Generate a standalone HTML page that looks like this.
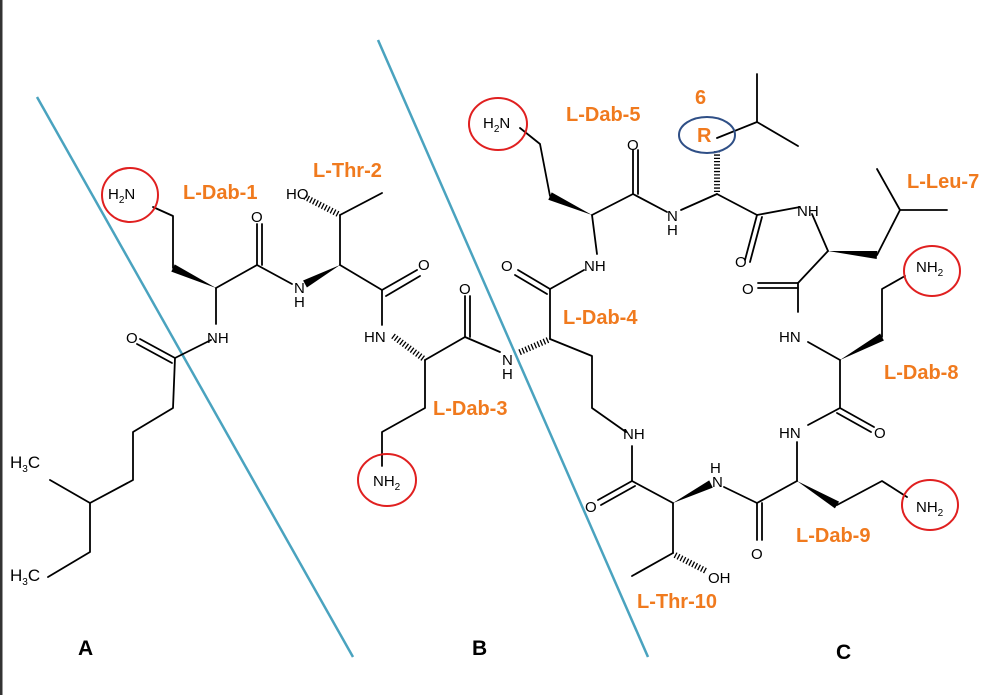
<!DOCTYPE html>
<html><head><meta charset="utf-8"><style>
html,body{margin:0;padding:0;background:#fff;}
svg{display:block;}
.b{stroke:#000;stroke-width:1.8;fill:none;stroke-linecap:round;stroke-linejoin:round}
.h{stroke:#000;stroke-width:6;stroke-dasharray:1.3 2;fill:none}
.a{font-family:"Liberation Sans",sans-serif;font-size:15px;fill:#000}
.l{font-family:"Liberation Sans",sans-serif;font-size:20px;font-weight:bold;fill:#f07a1e}
.k{font-family:"Liberation Sans",sans-serif;font-size:21px;font-weight:bold;fill:#000}
.s{font-size:10px}
</style></head><body>
<svg width="1000" height="695" viewBox="0 0 1000 695" xmlns="http://www.w3.org/2000/svg">
<rect x="0" y="0" width="1000" height="695" fill="#fff"/>
<rect x="0" y="0" width="2.5" height="695" fill="#333"/>
<!-- blue divider lines -->
<line x1="37" y1="97" x2="353" y2="657" stroke="#4aa3bf" stroke-width="2.5"/>
<line x1="378" y1="40" x2="648" y2="657" stroke="#4aa3bf" stroke-width="2.5"/>

<!-- LEFT PART -->
<g class="b">
<polyline points="153,207 173,216 173,268"/>
<polyline points="216,288 257,265 292,284"/>
<line x1="257" y1="265" x2="257" y2="224"/><line x1="262" y1="265" x2="262" y2="224"/>
<line x1="216" y1="288" x2="216" y2="324"/>
<line x1="211" y1="340" x2="175" y2="358"/>
<line x1="175" y1="358" x2="140" y2="339"/><line x1="172" y1="363" x2="137" y2="344"/>
<polyline points="175,358 173,408 133,432 133,480 90,503 50,480"/>
<polyline points="90,503 90,552 48,577"/>
<line x1="340" y1="265" x2="340" y2="215"/>
<line x1="340" y1="215" x2="382" y2="193"/>
<polyline points="340,265 382,290 382,325"/>
<line x1="382" y1="290" x2="417" y2="270"/><line x1="386" y1="296" x2="420" y2="276"/>
<polyline points="425,360 465,337 500,352"/>
<line x1="465" y1="337" x2="465" y2="296"/><line x1="470" y1="337" x2="470" y2="296"/>
<polyline points="425,360 425,408 382,432 382,466"/>
</g>
<polygon points="216,288 174.7,264.4 171.3,271.6" fill="#000"/>
<polygon points="340,265 306.9,287.5 303.1,280.5" fill="#000"/>
<line class="h" x1="338" y1="214" x2="305" y2="197"/>
<line class="h" x1="393" y1="336" x2="424" y2="359"/>

<text class="a" x="108" y="199">H<tspan class="s" dy="4">2</tspan><tspan dy="-4">N</tspan></text>
<text class="a" x="251" y="222">O</text>
<text class="a" x="294" y="293">N</text>
<text class="a" x="294" y="307">H</text>
<text class="a" x="286" y="199">HO</text>
<text class="a" x="418" y="270">O</text>
<text class="a" x="207" y="343">NH</text>
<text class="a" x="126" y="343">O</text>
<text class="a" x="364" y="342">HN</text>
<text class="a" x="459" y="294">O</text>
<text class="a" x="373" y="486">NH<tspan class="s" dy="4">2</tspan></text>
<text class="a" x="10" y="468" style="font-size:17px">H<tspan class="s" dy="4">3</tspan><tspan dy="-4">C</tspan></text>
<text class="a" x="10" y="581" style="font-size:17px">H<tspan class="s" dy="4">3</tspan><tspan dy="-4">C</tspan></text>

<ellipse cx="130" cy="195" rx="28" ry="27" fill="none" stroke="#e02020" stroke-width="2"/>
<ellipse cx="387" cy="480" rx="29" ry="26" fill="none" stroke="#e02020" stroke-width="2"/>

<text class="l" x="183" y="199">L-Dab-1</text>
<text class="l" x="313" y="177">L-Thr-2</text>
<text class="l" x="433" y="415">L-Dab-3</text>

<!-- RIGHT PART (cyclic) -->
<g class="b">
<polyline points="520,128 540,144 550,196"/>
<polyline points="592,215 633,194 667,212"/>
<line x1="633" y1="194" x2="633" y2="150"/><line x1="638" y1="194" x2="638" y2="150"/>
<line x1="681" y1="210" x2="717" y2="194"/>
<line x1="717" y1="194" x2="757" y2="215"/>
<line x1="757" y1="215" x2="745" y2="260"/><line x1="762" y1="217" x2="750" y2="262"/>
<line x1="757" y1="215" x2="800" y2="207"/>
<polyline points="717,138 757,122 757,74"/>
<line x1="757" y1="122" x2="798" y2="146"/>
<line x1="812" y1="214" x2="828" y2="251"/>
<polyline points="877,255 900,210 877,169"/>
<line x1="900" y1="210" x2="947" y2="210"/>
<polyline points="828,251 798,283 798,312"/>
<line x1="798" y1="283" x2="758" y2="283"/><line x1="798" y1="288" x2="758" y2="288"/>
<line x1="808" y1="342" x2="840" y2="360"/>
<polyline points="882,337 882,289 905,276"/>
<line x1="840" y1="360" x2="840" y2="408"/>
<line x1="840" y1="408" x2="874" y2="427"/><line x1="837" y1="413" x2="871" y2="432"/>
<line x1="840" y1="408" x2="808" y2="425"/>
<line x1="797" y1="442" x2="797" y2="481"/>
<polyline points="837,505 882,481 907,497"/>
<line x1="797" y1="481" x2="757" y2="503"/>
<line x1="757" y1="503" x2="757" y2="540"/><line x1="762" y1="503" x2="762" y2="540"/>
<line x1="757" y1="503" x2="724" y2="487"/>
<line x1="673" y1="503" x2="632" y2="481"/>
<line x1="632" y1="481" x2="598" y2="500"/><line x1="635" y1="486" x2="601" y2="505"/>
<line x1="632" y1="481" x2="632" y2="446"/>
<polyline points="626,432 592,408 592,356 550,339"/>
<line x1="550" y1="339" x2="550" y2="289"/>
<line x1="550" y1="289" x2="518" y2="270"/><line x1="547" y1="294" x2="515" y2="275"/>
<line x1="550" y1="289" x2="584" y2="270"/>
<line x1="592" y1="215" x2="597" y2="254"/>
<line x1="673" y1="503" x2="673" y2="553"/>
<line x1="673" y1="553" x2="632" y2="576"/>
</g>
<polygon points="592,215 551.7,192.4 548.3,199.7" fill="#000"/>
<polygon points="828,251 876.7,259 877.3,251" fill="#000"/>
<polygon points="840,360 883.9,340.5 880.1,333.5" fill="#000"/>
<polygon points="797,481 834.9,508.4 839.1,501.6" fill="#000"/>
<polygon points="673,503 712.8,487.6 709.2,480.4" fill="#000"/>
<line class="h" x1="717" y1="192" x2="717" y2="150"/>
<line class="h" x1="548" y1="340" x2="518" y2="353"/>
<line class="h" x1="675" y1="555" x2="706" y2="571"/>

<text class="a" x="483" y="128">H<tspan class="s" dy="4">2</tspan><tspan dy="-4">N</tspan></text>
<text class="a" x="627" y="150">O</text>
<text class="a" x="667" y="221">N</text>
<text class="a" x="667" y="235">H</text>
<text class="a" x="735" y="267">O</text>
<text class="a" x="797" y="216">NH</text>
<text class="a" x="742" y="294">O</text>
<text class="a" x="779" y="342">HN</text>
<text class="a" x="916" y="272">NH<tspan class="s" dy="4">2</tspan></text>
<text class="a" x="874" y="438">O</text>
<text class="a" x="779" y="438">HN</text>
<text class="a" x="916" y="512">NH<tspan class="s" dy="4">2</tspan></text>
<text class="a" x="751" y="559">O</text>
<text class="a" x="712" y="487">N</text>
<text class="a" x="710" y="473">H</text>
<text class="a" x="585" y="512">O</text>
<text class="a" x="623" y="439">NH</text>
<text class="a" x="502" y="365">N</text>
<text class="a" x="502" y="379">H</text>
<text class="a" x="501" y="271">O</text>
<text class="a" x="584" y="271">NH</text>
<text class="a" x="708" y="583">OH</text>

<ellipse cx="498" cy="124" rx="29" ry="26" fill="none" stroke="#e02020" stroke-width="2"/>
<ellipse cx="932" cy="271" rx="28" ry="25" fill="none" stroke="#e02020" stroke-width="2"/>
<ellipse cx="930" cy="505" rx="28" ry="25" fill="none" stroke="#e02020" stroke-width="2"/>
<ellipse cx="707" cy="135" rx="28" ry="18" fill="none" stroke="#2f4f86" stroke-width="2"/>

<text class="l" x="697" y="142">R</text>
<text class="l" x="695" y="104">6</text>
<text class="l" x="566" y="121">L-Dab-5</text>
<text class="l" x="907" y="188">L-Leu-7</text>
<text class="l" x="563" y="324">L-Dab-4</text>
<text class="l" x="884" y="379">L-Dab-8</text>
<text class="l" x="796" y="542">L-Dab-9</text>
<text class="l" x="637" y="608">L-Thr-10</text>

<text class="k" x="78" y="655">A</text>
<text class="k" x="472" y="655">B</text>
<text class="k" x="836" y="659">C</text>
</svg>
</body></html>
